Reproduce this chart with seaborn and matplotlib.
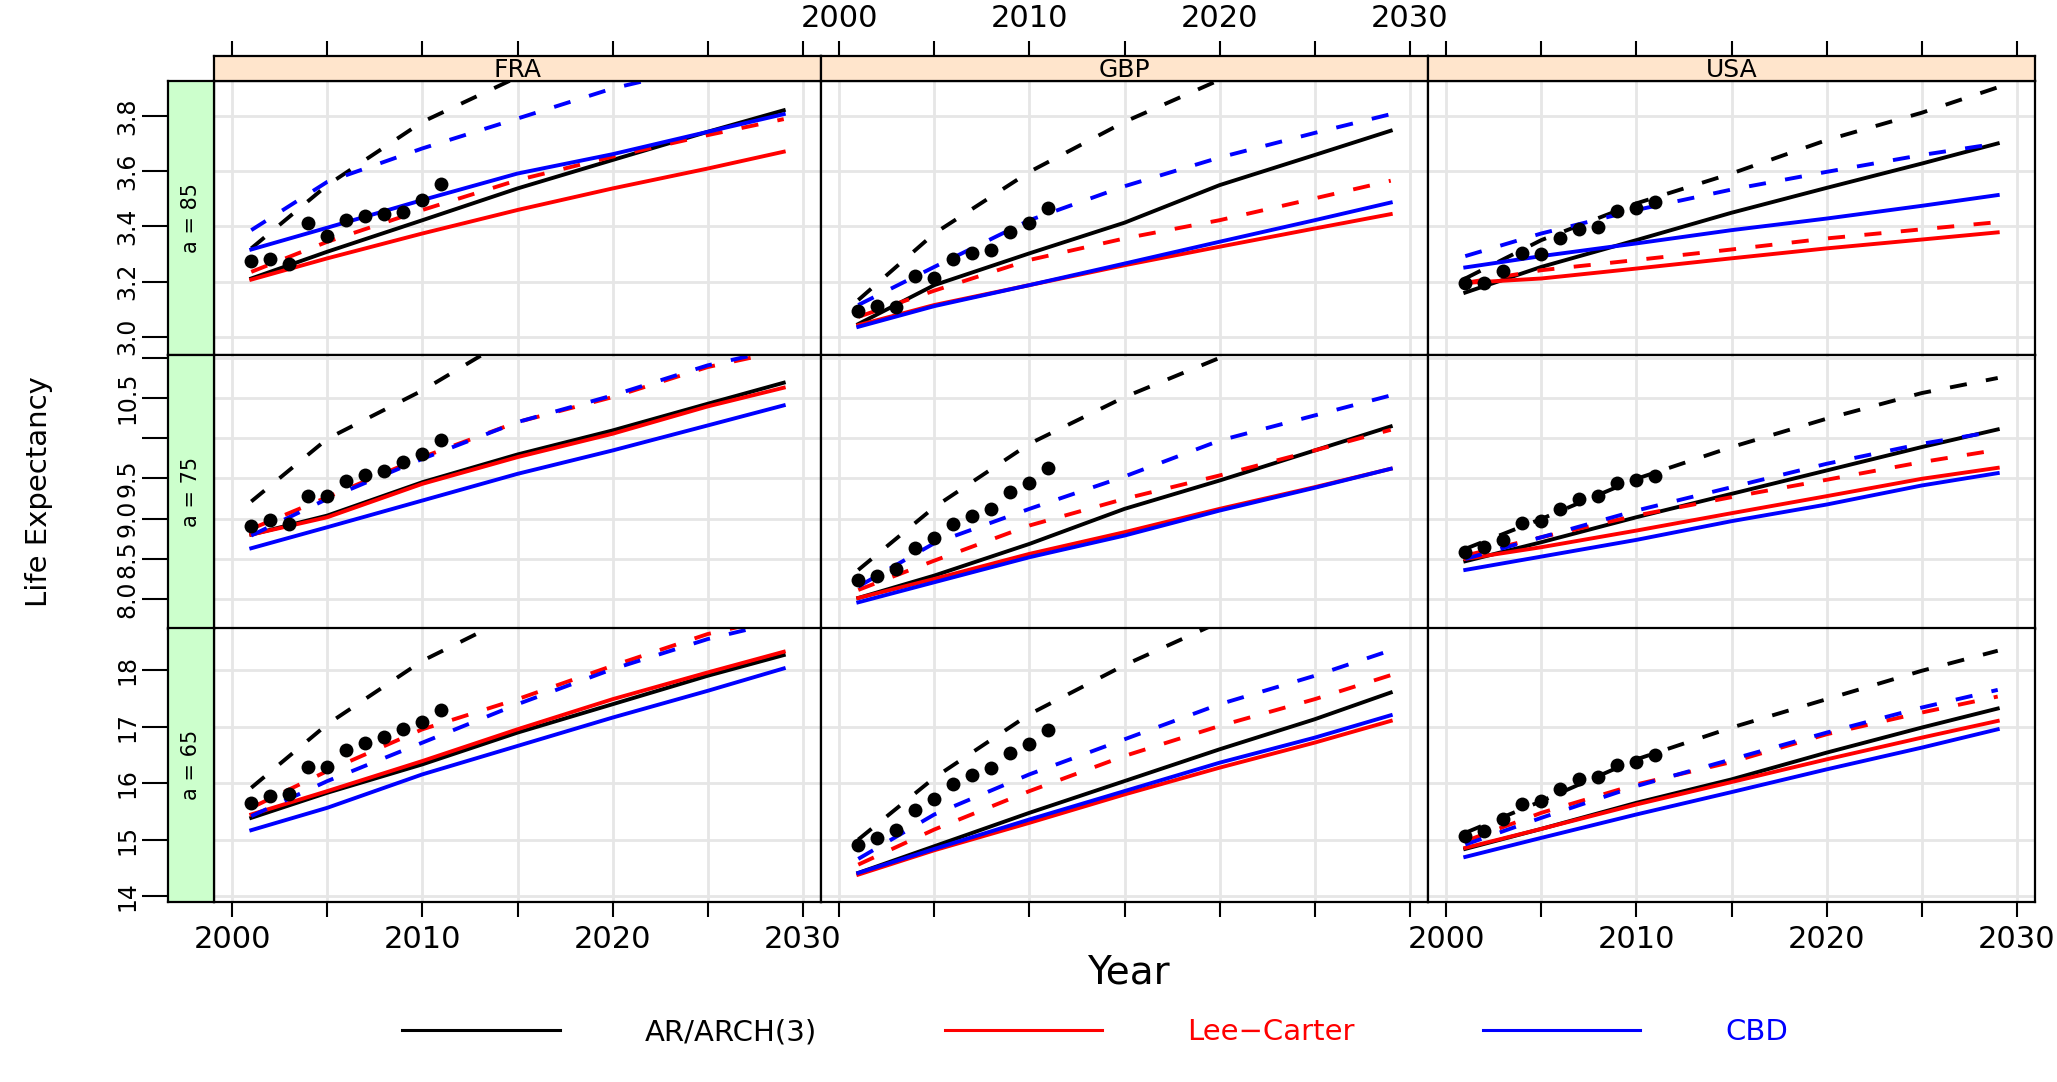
import matplotlib
matplotlib.use("Agg")
from matplotlib import pyplot as plt
from matplotlib.lines import Line2D
import pandas as pd
import seaborn as sns

countries = ["FRA", "GBP", "USA"]
ages = [85, 75, 65]
models = ["AR/ARCH(3)", "Lee\u2212Carter", "CBD"]
model_colors = ["black", "red", "blue"]

years_obs = list(range(2001, 2012))
years_fc = [2001, 2005, 2010, 2015, 2020, 2025, 2029]

# observed values (dots)
fra85_obs = [3.275, 3.282, 3.263, 3.413, 3.364, 3.424, 3.436, 3.443, 3.450, 3.494, 3.554]
gbp85_obs = [3.094, 3.111, 3.109, 3.220, 3.211, 3.281, 3.302, 3.314, 3.379, 3.411, 3.465]
usa85_obs = [3.193, 3.193, 3.239, 3.305, 3.298, 3.358, 3.391, 3.396, 3.457, 3.466, 3.489]
fra75_obs = [8.909, 8.984, 8.934, 9.275, 9.275, 9.474, 9.545, 9.591, 9.703, 9.802, 9.981]
gbp75_obs = [8.237, 8.291, 8.374, 8.631, 8.760, 8.934, 9.038, 9.121, 9.329, 9.445, 9.628]
usa75_obs = [8.581, 8.644, 8.739, 8.947, 8.976, 9.121, 9.246, 9.275, 9.445, 9.483, 9.524]
fra65_obs = [15.643, 15.773, 15.802, 16.281, 16.281, 16.582, 16.712, 16.812, 16.954, 17.078, 17.303]
gbp65_obs = [14.904, 15.034, 15.176, 15.518, 15.725, 15.979, 16.145, 16.263, 16.541, 16.688, 16.948]
usa65_obs = [15.063, 15.163, 15.359, 15.625, 15.684, 15.902, 16.080, 16.115, 16.322, 16.375, 16.493]

# forecasts: central (solid) and upper (dashed), one list per model
fra85_ar = [3.211, 3.308, 3.422, 3.537, 3.640, 3.742, 3.820]
fra85_lc = [3.207, 3.284, 3.374, 3.459, 3.537, 3.609, 3.670]
fra85_cbd = [3.316, 3.395, 3.495, 3.591, 3.661, 3.742, 3.806]
fra85_ar_hi = [3.320, 3.549, 3.778, 3.940, 4.050, 4.150, 4.220]
fra85_lc_hi = [3.235, 3.344, 3.459, 3.567, 3.652, 3.730, 3.788]
fra85_cbd_hi = [3.386, 3.561, 3.682, 3.790, 3.899, 3.980, 4.040]

gbp85_ar = [3.046, 3.187, 3.302, 3.413, 3.549, 3.658, 3.746]
gbp85_lc = [3.042, 3.115, 3.187, 3.259, 3.326, 3.392, 3.444]
gbp85_cbd = [3.036, 3.111, 3.187, 3.265, 3.344, 3.422, 3.486]
gbp85_ar_hi = [3.133, 3.374, 3.597, 3.778, 3.930, 4.030, 4.100]
gbp85_lc_hi = [3.072, 3.167, 3.278, 3.356, 3.422, 3.501, 3.565]
gbp85_cbd_hi = [3.115, 3.253, 3.422, 3.545, 3.649, 3.738, 3.806]

usa85_ar = [3.160, 3.253, 3.350, 3.449, 3.539, 3.627, 3.700]
usa85_lc = [3.195, 3.211, 3.247, 3.284, 3.320, 3.352, 3.378]
usa85_cbd = [3.251, 3.292, 3.338, 3.386, 3.428, 3.474, 3.513]
usa85_ar_hi = [3.211, 3.350, 3.483, 3.591, 3.712, 3.811, 3.903]
usa85_lc_hi = [3.195, 3.241, 3.278, 3.316, 3.356, 3.389, 3.415]
usa85_cbd_hi = [3.292, 3.374, 3.459, 3.533, 3.597, 3.658, 3.700]

fra75_ar = [8.801, 9.038, 9.453, 9.798, 10.097, 10.429, 10.691]
fra75_lc = [8.801, 9.017, 9.433, 9.765, 10.056, 10.396, 10.629]
fra75_cbd = [8.631, 8.893, 9.225, 9.557, 9.848, 10.159, 10.409]
fra75_ar_hi = [9.213, 9.993, 10.595, 11.300, 11.800, 12.200, 12.500]
fra75_lc_hi = [8.872, 9.267, 9.765, 10.201, 10.512, 10.886, 11.090]
fra75_cbd_hi = [8.789, 9.246, 9.744, 10.201, 10.533, 10.907, 11.120]

gbp75_ar = [8.012, 8.291, 8.685, 9.121, 9.474, 9.848, 10.147]
gbp75_lc = [8.012, 8.249, 8.561, 8.831, 9.121, 9.391, 9.620]
gbp75_cbd = [7.958, 8.208, 8.519, 8.789, 9.100, 9.383, 9.620]
gbp75_ar_hi = [8.361, 9.142, 9.931, 10.512, 11.000, 11.500, 11.800]
gbp75_lc_hi = [8.112, 8.477, 8.914, 9.246, 9.537, 9.848, 10.105]
gbp75_cbd_hi = [8.154, 8.694, 9.121, 9.524, 9.971, 10.284, 10.533]

usa75_ar = [8.469, 8.706, 9.017, 9.308, 9.599, 9.890, 10.110]
usa75_lc = [8.498, 8.644, 8.851, 9.067, 9.279, 9.495, 9.632]
usa75_cbd = [8.361, 8.527, 8.735, 8.968, 9.175, 9.412, 9.566]
usa75_ar_hi = [8.623, 8.996, 9.495, 9.890, 10.243, 10.562, 10.750]
usa75_lc_hi = [8.540, 8.768, 9.038, 9.267, 9.483, 9.703, 9.856]
usa75_cbd_hi = [8.498, 8.768, 9.100, 9.391, 9.682, 9.931, 10.090]

fra65_ar = [15.388, 15.832, 16.334, 16.895, 17.397, 17.900, 18.266]
fra65_lc = [15.448, 15.861, 16.393, 16.954, 17.486, 17.959, 18.325]
fra65_cbd = [15.170, 15.566, 16.157, 16.659, 17.161, 17.634, 18.030]
fra65_ar_hi = [15.920, 17.043, 18.165, 19.000, 19.500, 20.000, 20.300]
fra65_lc_hi = [15.566, 16.216, 16.954, 17.486, 18.077, 18.638, 18.950]
fra65_cbd_hi = [15.418, 16.038, 16.718, 17.397, 18.018, 18.549, 18.870]

gbp65_ar = [14.414, 14.886, 15.477, 16.038, 16.600, 17.131, 17.604]
gbp65_lc = [14.384, 14.815, 15.300, 15.802, 16.275, 16.718, 17.102]
gbp65_cbd = [14.414, 14.839, 15.359, 15.861, 16.363, 16.806, 17.202]
gbp65_ar_hi = [15.004, 16.097, 17.220, 18.089, 18.850, 19.300, 19.600]
gbp65_lc_hi = [14.561, 15.182, 15.861, 16.482, 17.013, 17.486, 17.911]
gbp65_cbd_hi = [14.662, 15.448, 16.157, 16.777, 17.397, 17.900, 18.350]

usa65_ar = [14.839, 15.193, 15.654, 16.068, 16.541, 16.984, 17.321]
usa65_lc = [14.857, 15.193, 15.625, 16.021, 16.422, 16.806, 17.102]
usa65_cbd = [14.697, 15.034, 15.448, 15.843, 16.245, 16.629, 16.954]
usa65_ar_hi = [15.123, 15.684, 16.422, 16.984, 17.486, 17.988, 18.343]
usa65_lc_hi = [14.975, 15.477, 15.979, 16.375, 16.866, 17.250, 17.533]
usa65_cbd_hi = [14.916, 15.388, 15.950, 16.422, 16.895, 17.338, 17.651]

ticks85 = [3.0, 3.2, 3.4, 3.6, 3.8]
labels85 = ["3.0", "3.2", "3.4", "3.6", "3.8"]
ticks75 = [8.0, 8.5, 9.0, 9.5, 10.0, 10.5, 11.0]
labels75 = ["8.0", "8.5", "9.0", "9.5", "", "10.5", ""]
ticks65 = [14, 15, 16, 17, 18]
labels65 = ["14", "15", "16", "17", "18"]
year_ticks = [2000, 2005, 2010, 2015, 2020, 2025, 2030]
year_labels = ["2000", "", "2010", "", "2020", "", "2030"]

# tables built from the lists above
observed = {
    ("FRA", 85): fra85_obs, ("GBP", 85): gbp85_obs, ("USA", 85): usa85_obs,
    ("FRA", 75): fra75_obs, ("GBP", 75): gbp75_obs, ("USA", 75): usa75_obs,
    ("FRA", 65): fra65_obs, ("GBP", 65): gbp65_obs, ("USA", 65): usa65_obs,
}
forecasts = {
    ("FRA", 85): [fra85_ar, fra85_lc, fra85_cbd, fra85_ar_hi, fra85_lc_hi, fra85_cbd_hi],
    ("GBP", 85): [gbp85_ar, gbp85_lc, gbp85_cbd, gbp85_ar_hi, gbp85_lc_hi, gbp85_cbd_hi],
    ("USA", 85): [usa85_ar, usa85_lc, usa85_cbd, usa85_ar_hi, usa85_lc_hi, usa85_cbd_hi],
    ("FRA", 75): [fra75_ar, fra75_lc, fra75_cbd, fra75_ar_hi, fra75_lc_hi, fra75_cbd_hi],
    ("GBP", 75): [gbp75_ar, gbp75_lc, gbp75_cbd, gbp75_ar_hi, gbp75_lc_hi, gbp75_cbd_hi],
    ("USA", 75): [usa75_ar, usa75_lc, usa75_cbd, usa75_ar_hi, usa75_lc_hi, usa75_cbd_hi],
    ("FRA", 65): [fra65_ar, fra65_lc, fra65_cbd, fra65_ar_hi, fra65_lc_hi, fra65_cbd_hi],
    ("GBP", 65): [gbp65_ar, gbp65_lc, gbp65_cbd, gbp65_ar_hi, gbp65_lc_hi, gbp65_cbd_hi],
    ("USA", 65): [usa65_ar, usa65_lc, usa65_cbd, usa65_ar_hi, usa65_lc_hi, usa65_cbd_hi],
}
yticks = {85: (ticks85, labels85), 75: (ticks75, labels75), 65: (ticks65, labels65)}

recs = []
for (c, a), series in forecasts.items():
    for i, vals in enumerate(series):
        band = "mid" if i < 3 else "hi"
        for yr, v in zip(years_fc, vals):
            recs.append((c, a, models[i % 3], band, yr, v))
fc = pd.DataFrame(recs, columns=["country", "age", "model", "band", "year", "value"])

# layout in pixels of the 2057x1082 figure
W, H = 2057, 1082
def rect(x0, y0, w, h):
    return [x0 / W, 1 - (y0 + h) / H, w / W, h / H]

col_x = [214, 821, 1428]
col_w = 607
row_y = [81, 355, 628]
row_h = 274
ylims = {85: (2.934, 3.926), 75: (7.626, 11.036), 65: (13.90, 18.745)}
xlim = (1999.04, 2030.96)

fig = plt.figure(figsize=(W / 100, H / 100), dpi=100)
pal = dict(zip(models, model_colors))

for r, a in enumerate(ages):
    yt, yl = yticks[a]
    for ci, c in enumerate(countries):
        ax = fig.add_axes(rect(col_x[ci], row_y[r], col_w, row_h))
        sub = fc[(fc.country == c) & (fc.age == a)]
        sns.lineplot(data=sub, x="year", y="value", hue="model", style="band",
                     hue_order=models, style_order=["mid", "hi"], palette=pal,
                     dashes={"mid": "", "hi": (4.4, 5.0)}, estimator=None,
                     sort=False, lw=2.8, legend=False, ax=ax)
        sns.scatterplot(x=years_obs, y=observed[(c, a)], color="black", s=100,
                        linewidth=0, ax=ax, zorder=4)
        ax.set_xlim(*xlim)
        ax.set_ylim(*ylims[a])
        ax.set_xticks(year_ticks)
        ax.set_yticks(yt)
        ax.grid(True, color="#e6e6e6", lw=2.0)
        ax.set_axisbelow(True)
        ax.set_xlabel("")
        ax.set_ylabel("")
        ax.tick_params(left=False, labelleft=False, bottom=False, labelbottom=False)
        if r == 2:
            ax.set_xticklabels(year_labels)
            ax.tick_params(axis="x", bottom=True, length=10.8, width=1.5,
                           labelsize=22, pad=6, labelbottom=(ci != 1))
        for sp in ax.spines.values():
            sp.set_linewidth(1.6)

# top strips (country)
for ci, c in enumerate(countries):
    sax = fig.add_axes(rect(col_x[ci], 56, col_w, 25))
    sax.set_facecolor("#ffe5cc")
    sax.set_xlim(*xlim)
    sax.set_xticks(year_ticks)
    sax.set_xticklabels(year_labels)
    sax.set_yticks([])
    sax.tick_params(axis="x", top=True, bottom=False, labeltop=(ci == 1),
                    labelbottom=False, length=10.8, width=1.5, labelsize=22, pad=6)
    sax.text(0.5, 0.45, c, transform=sax.transAxes, ha="center", va="center", fontsize=18)
    for sp in sax.spines.values():
        sp.set_linewidth(1.6)

# left strips (age) carrying the y axis
for r, a in enumerate(ages):
    yt, yl = yticks[a]
    gax = fig.add_axes(rect(168, row_y[r], 46, row_h))
    gax.set_facecolor("#ccffcc")
    gax.set_ylim(*ylims[a])
    gax.set_xticks([])
    gax.set_yticks(yt)
    gax.set_yticklabels(yl)
    gax.tick_params(axis="y", length=18.7, width=1.5, labelsize=17, pad=2, labelrotation=90)
    for lab in gax.get_yticklabels():
        lab.set_va("center")
    gax.text(0.5, 0.5, f"a = {a}", rotation=90, transform=gax.transAxes,
             ha="center", va="center", fontsize=15)
    for sp in gax.spines.values():
        sp.set_linewidth(1.6)

fig.text(39 / W, 1 - 492 / H, "Life Expectancy", rotation=90, ha="center", va="center", fontsize=21)
fig.text(1128 / W, 1 - 973 / H, "Year", ha="center", va="center", fontsize=28)

handles = [Line2D([], [], color=col, lw=2.2) for col in model_colors]
fig.legend(handles, models, loc="center", bbox_to_anchor=(1095 / W, 1 - 1032 / H),
           ncol=3, frameon=False, fontsize=21, handlelength=5.4, handletextpad=2.9,
           columnspacing=4.4, labelcolor=model_colors)

fig.savefig("out.png", dpi=100)
